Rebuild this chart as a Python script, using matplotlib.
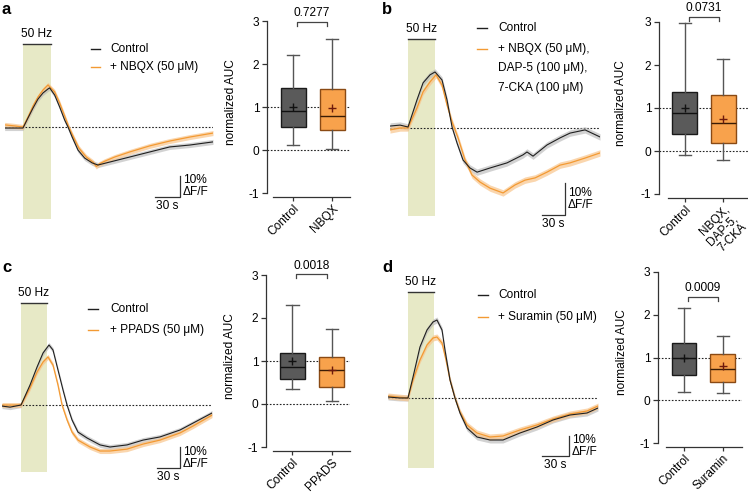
import matplotlib
matplotlib.use('Agg')
import matplotlib.pyplot as plt
from matplotlib.lines import Line2D

W, H = 748, 493
plt.rcParams['font.family'] = ['Liberation Sans', 'DejaVu Sans']
plt.rcParams['font.size'] = 8.6
plt.rcParams['axes.unicode_minus'] = False
FS = 8.6

# ---------------- traces: time (s, 0 = stimulus onset), dF/F (%) ----------------
a_t_ctrl = [-22, -10, 0, 6, 12, 18, 24, 30, 32, 38, 44, 50, 54, 59, 66, 74, 83, 90, 104, 128, 152, 176, 200, 228]
a_ctrl = [-0.5, -0.5, -0.5, 4.3, 9.0, 13.3, 16.2, 18.1, 18.6, 15.2, 9.5, 3.3, 0, -4.8, -11.0, -14.8, -17.1, -18.1, -16.7, -14.3, -11.9, -9.5, -8.6, -7.1]
a_t_drug = [-22, -10, 0, 6, 12, 18, 24, 30, 38, 44, 50, 55, 60, 67, 76, 84, 88, 92, 98, 110, 128, 152, 176, 200, 228]
a_drug = [1.0, 0.5, 0, 4.8, 10.0, 14.3, 17.6, 20.0, 16.7, 11.4, 5.2, 0, -4.3, -10.0, -14.3, -16.7, -18.8, -17.5, -16.3, -14.3, -11.9, -9.0, -6.7, -4.8, -2.9]

b_t_ctrl = [-23.5, -10.4, 0, 11.7, 19.6, 28.7, 35.2, 44.3, 50.8, 57.4, 63.9, 71.7, 80.8, 90.0, 106.9, 129.1, 149.9, 155.1, 163.0, 181.2, 198.2, 211.2, 230.8, 250.3]
b_ctrl = [0.6, 0.9, 0.3, 8.8, 14.1, 16.6, 17.5, 15.0, 8.8, 0.3, -4.7, -10.0, -12.5, -13.8, -12.5, -10.9, -8.4, -7.5, -8.8, -5.3, -3.1, -1.6, -0.6, -2.8]
b_t_drug = [-23.5, -10.4, 0, 11.7, 19.6, 28.7, 36.5, 44.3, 50.8, 57.4, 65.2, 74.3, 83.4, 93.9, 106.9, 123.9, 139.5, 152.5, 165.6, 181.2, 198.2, 211.2, 230.8, 250.3]
b_drug = [-0.6, 0, 0, 6.3, 11.3, 14.4, 16.6, 13.4, 7.2, 1.9, -3.1, -10.0, -14.7, -16.9, -18.8, -20.3, -17.8, -16.3, -15.6, -13.8, -11.6, -10.9, -9.4, -7.8]

c_t_ctrl = [-24.8, -14.3, 0, 11.7, 20.9, 28.7, 36.5, 41.7, 48.2, 54.8, 60.0, 66.5, 74.3, 86.1, 103.0, 116.0, 138.2, 159.1, 181.2, 207.3, 224.3, 249.0]
c_ctrl = [-0.5, -1.0, 0, 9.5, 18.1, 24.8, 28.6, 26.2, 16.7, 7.1, 0, -7.1, -12.9, -15.7, -19.0, -20.0, -19.0, -16.7, -15.2, -11.9, -8.6, -3.8]
c_t_drug = [-24.8, 0, 11.7, 20.9, 28.7, 35.2, 41.7, 48.2, 53.5, 60.0, 66.5, 74.3, 90.0, 103.0, 116.0, 138.2, 159.1, 181.2, 207.3, 224.3, 249.0]
c_drug = [0, 0, 8.1, 15.7, 20.5, 22.9, 19.0, 9.5, 0, -7.1, -12.9, -16.7, -20.0, -21.9, -21.9, -21.0, -18.6, -16.7, -13.3, -10.0, -4.8]

d_t_ctrl = [-22.2, -8.9, 0, 5.6, 13.3, 21.1, 27.8, 32.2, 37.8, 41.1, 46.7, 52.2, 57.8, 65.6, 76.7, 91.1, 105.6, 124.4, 143.3, 161.1, 180.0, 198.9, 211.1]
d_ctrl = [0.5, 0, 0, 10.5, 25.5, 34.0, 38.0, 39.0, 34.0, 24.0, 9.0, 0, -7.5, -15.0, -19.5, -21.0, -21.0, -17.5, -14.5, -11.0, -8.5, -7.5, -5.0]
d_t_drug = [-22.2, 0, 5.6, 13.3, 21.1, 27.8, 32.2, 37.8, 42.2, 46.7, 52.2, 57.8, 65.6, 76.7, 91.1, 105.6, 124.4, 143.3, 161.1, 180.0, 198.9, 211.1]
d_drug = [1.0, 0, 9.0, 19.0, 26.5, 30.0, 30.5, 27.5, 19.0, 9.0, 0, -7.0, -13.5, -17.5, -19.5, -19.0, -16.0, -13.5, -10.5, -8.0, -6.5, -4.0]

# ---------------- box plots: normalized AUC ----------------
a_labels = ['Control', 'NBQX']
a_med, a_q1, a_q3 = [0.90, 0.80], [0.53, 0.46], [1.44, 1.41]
a_lo, a_hi, a_mean = [0.12, 0.02], [2.20, 2.58], [1.00, 0.98]
a_p = '0.7277'

b_labels = ['Control', 'NBQX,\nDAP-5,\n7-CKA']
b_med, b_q1, b_q3 = [0.88, 0.65], [0.40, 0.19], [1.37, 1.30]
b_lo, b_hi, b_mean = [-0.09, -0.21], [2.98, 2.14], [1.00, 0.75]
b_p = '0.0731'

c_labels = ['Control', 'PPADS']
c_med, c_q1, c_q3 = [0.85, 0.80], [0.58, 0.39], [1.18, 1.09]
c_lo, c_hi, c_mean = [0.35, 0.07], [2.31, 1.75], [1.00, 0.80]
c_p = '0.0018'

d_labels = ['Control', 'Suramin']
d_med, d_q1, d_q3 = [1.00, 0.74], [0.60, 0.42], [1.35, 1.09]
d_lo, d_hi, d_mean = [0.20, 0.16], [2.16, 1.51], [1.00, 0.79]
d_p = '0.0009'

CTRL = '#1f1f1f'
DRUG = '#F39A33'
SHADE = '#E7E9C6'

fig = plt.figure(figsize=(W / 100, H / 100), dpi=100)


def px_axes(x0, y0, x1, y1):
    return fig.add_axes([x0 / W, 1 - y1 / H, (x1 - x0) / W, (y1 - y0) / H])


def fig_line(x0, x1, y, color, lw=1.0):
    fig.add_artist(Line2D([x0 / W, x1 / W], [1 - y / H, 1 - y / H],
                          transform=fig.transFigure, color=color, lw=lw))


def fig_text(x, y, s, **kw):
    fig.text(x / W, 1 - y / H, s, **kw)


def trace_panel(box, xlim, ylim, stim_end, tc, vc, td, vd, sem, bar_at):
    ax = px_axes(*box)
    ax.set_xlim(*xlim)
    ax.set_ylim(*ylim)
    ax.axis('off')
    ax.axvspan(0, stim_end, color=SHADE, lw=0, zorder=0)
    ax.plot([0, stim_end], [ylim[1], ylim[1]], color='#333333', lw=1.0, clip_on=False)
    ax.annotate('50 Hz', xy=(stim_end / 2, ylim[1]), xytext=(0, 7.5), textcoords='offset points',
                ha='center', va='center', fontsize=FS)
    ax.plot(xlim, [0, 0], color='#222222', lw=0.8, ls=(0, (1.5, 1.5)), zorder=1)
    ax.fill_between(tc, [v - sem for v in vc], [v + sem for v in vc], color='#b5b5b5', alpha=0.6, lw=0, zorder=2)
    ax.fill_between(td, [v - sem for v in vd], [v + sem for v in vd], color='#F8C58C', alpha=0.7, lw=0, zorder=2)
    ax.plot(td, vd, color=DRUG, lw=0.9, zorder=3)
    ax.plot(tc, vc, color=CTRL, lw=0.8, zorder=4)
    # scale bar 30 s / 10 %
    sx, sy = bar_at
    ax.plot([sx - 30, sx, sx], [sy, sy, sy + 10], color='#333333', lw=0.9, clip_on=False)
    ax.annotate('10%\n\u0394F/F', xy=(sx, sy + 5), xytext=(2, 0), textcoords='offset points',
                ha='left', va='center', fontsize=FS, linespacing=1.0)
    ax.annotate('30 s', xy=(sx - 15, sy), xytext=(0, -2), textcoords='offset points',
                ha='center', va='top', fontsize=FS)
    return ax


def box_panel(box, xr, xaxis_left, labels, med, q1, q3, lo, hi, mean, p, p_y):
    ax = px_axes(*box)
    stats = []
    for i in range(2):
        stats.append(dict(med=med[i], q1=q1[i], q3=q3[i], whislo=lo[i], whishi=hi[i],
                          mean=mean[i], fliers=[], label=labels[i]))
    res = ax.bxp(stats, positions=[1, 2], widths=0.64, patch_artist=True, showmeans=True,
                 showfliers=False,
                 medianprops=dict(color='#111111', lw=1.0),
                 whiskerprops=dict(color='#555555', lw=1.0),
                 capprops=dict(color='#555555', lw=1.0),
                 meanprops=dict(marker='+', markersize=6, markeredgewidth=1.0))
    faces = ['#5a5a5a', '#F8A24C']
    edges = ['#1a1a1a', '#8a4a14']
    meanc = ['#111111', '#6e1a0c']
    for i in range(2):
        res['boxes'][i].set_facecolor(faces[i])
        res['boxes'][i].set_edgecolor(edges[i])
        res['boxes'][i].set_linewidth(1.0)
        res['means'][i].set_markeredgecolor(meanc[i])
        res['means'][i].set_markerfacecolor(meanc[i])
    res['medians'][1].set_color('#3a1c05')
    for y in (0, 1):
        ax.plot([0.333, xr], [y, y], color='#222222', lw=0.8, ls=(0, (1.5, 1.5)), zorder=0.5)
    ax.set_xlim(0.333, xr)
    ax.set_ylim(-1, 3)
    ax.patch.set_alpha(0)
    for s in ('top', 'right'):
        ax.spines[s].set_visible(False)
    ax.spines['left'].set_bounds(-1, 3)
    ax.spines['bottom'].set_position(('outward', 3))
    ax.spines['bottom'].set_bounds(xaxis_left, xr)
    for s in ('left', 'bottom'):
        ax.spines[s].set_color('#333333')
        ax.spines[s].set_linewidth(0.9)
    ax.set_yticks([-1, 0, 1, 2, 3])
    ax.set_yticklabels(['-1', '0', '1', '2', '3'])
    ax.set_xticks([1, 2])
    ax.set_xticklabels(labels, rotation=45, ha='right', va='top', rotation_mode='anchor',
                       multialignment='right', linespacing=1.05, fontsize=8.0)
    ax.tick_params(direction='out', length=3.5, width=0.9, color='#333333', labelsize=FS, pad=2)
    ax.tick_params(axis='x', length=3, pad=1)
    ax.set_ylabel('normalized AUC', fontsize=FS)
    ax.yaxis.set_label_coords(-0.36, 0.53)
    ax.plot([1.1, 1.1, 1.88, 1.88], [p_y - 0.1, p_y, p_y, p_y - 0.1], color='#444444', lw=0.9,
            clip_on=False)
    ax.text(1.49, p_y + 0.2, p, ha='center', va='center', fontsize=FS, clip_on=False)
    return ax


# ---- panel a ----
trace_panel((5, 44, 213, 219), (-21.6, 228), (-43.8, 39.5), 33.6,
            a_t_ctrl, a_ctrl, a_t_drug, a_drug, 1.2, (188.4, -33.3))
box_panel((267, 21, 350, 193), 2.46, 0.49, a_labels, a_med, a_q1, a_q3, a_lo, a_hi, a_mean, a_p, 2.98)

# ---- panel b ----
trace_panel((390, 39, 600, 216), (-23.5, 250.3), (-27.5, 27.8), 35.2,
            b_t_ctrl, b_ctrl, b_t_drug, b_drug, 1.0, (204.7, -27.2))
box_panel((659, 22, 748, 194), 2.64, 0.56, b_labels, b_med, b_q1, b_q3, b_lo, b_hi, b_mean, b_p, 3.12)

# ---- panel c ----
trace_panel((2, 303, 212, 472), (-24.8, 249.0), (-31.9, 48.6), 33.9,
            c_t_ctrl, c_ctrl, c_t_drug, c_drug, 1.2, (207.3, -30.0))
box_panel((266, 275, 350, 447), 2.46, 0.51, c_labels, c_med, c_q1, c_q3, c_lo, c_hi, c_mean, c_p, 3.02)

# ---- panel d ----
trace_panel((388, 292, 598, 468), (-22.2, 211.1), (-35.0, 53.0), 28.9,
            d_t_ctrl, d_ctrl, d_t_drug, d_drug, 1.5, (178.9, -29.0))
box_panel((658, 272, 742, 443), 2.49, 0.54, d_labels, d_med, d_q1, d_q3, d_lo, d_hi, d_mean, d_p, 2.42)

# ---- legends ----
legends = [
    (91, 100, 49, 67, 110, ['+ NBQX (50 \u03bcM)']),
    (477, 487, 28, 49, 498, ['+ NBQX (50 \u03bcM),', 'DAP-5 (100 \u03bcM),', '7-CKA (100 \u03bcM)']),
    (88, 98, 309, 330, 110, ['+ PPADS (50 \u03bcM)']),
    (478, 488, 295, 317, 498, ['+ Suramin (50 \u03bcM)']),
]
for x0, x1, y_c, y_d, xt, drug_lines in legends:
    fig_line(x0, x1, y_c, CTRL)
    fig_line(x0, x1, y_d, DRUG)
    fig_text(xt, y_c, 'Control', ha='left', va='center', fontsize=FS)
    for k, line in enumerate(drug_lines):
        fig_text(xt, y_d + 19.5 * k, line, ha='left', va='center', fontsize=FS)

# ---- panel letters ----
for letter, x, y in [('a', 2, 9), ('b', 382, 9), ('c', 2, 268), ('d', 382, 268)]:
    fig_text(x, y, letter, fontsize=12, fontweight='bold', ha='left', va='center')

fig.savefig('out.png', dpi=100)
